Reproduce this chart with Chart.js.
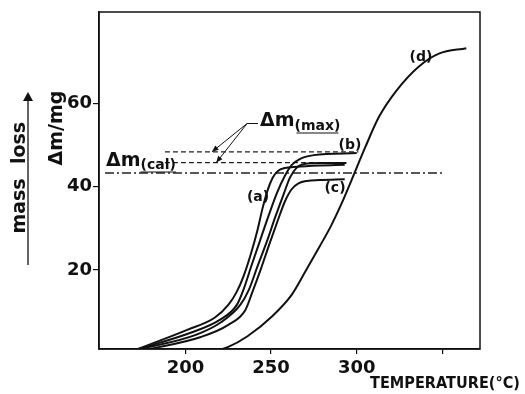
<!DOCTYPE html>
<html>
<head>
<meta charset="utf-8">
<script src="https://cdn.jsdelivr.net/npm/chart.js@4"></script>
<style>
  html, body { margin: 0; padding: 0; background: #fff; }
  #wrap { width: 525px; height: 394px; }
</style>
</head>
<body>
<div id="wrap"><canvas id="tgChart"></canvas></div>
<script>
// tick labels
const tempTicks = [200, 250, 300, 350];
const massTicks = [20, 40, 60];

// curve (a)
const aTemp = [169, 185, 201, 217, 225, 230, 234, 238, 242, 245, 248, 251, 254, 258, 265, 278, 293];
const aMass = [0.5, 3.0, 5.6, 8.5, 11.6, 14.8, 18.6, 23.6, 29.5, 34.8, 39.2, 42.2, 43.8, 44.5, 44.8, 45.1, 45.3];
// curve (b)
const bTemp = [171, 203, 220, 230, 234, 238.5, 243.5, 248.5, 253.5, 258, 262, 267, 275, 300];
const bMass = [0.8, 4.9, 8.0, 11.6, 15.4, 21.0, 27.0, 33.0, 38.6, 42.6, 45.2, 46.7, 47.6, 48.1];
// unlabelled curve between (b) and (c)
const eTemp = [174, 206, 221, 232, 237, 242, 247.5, 252.5, 257.5, 261, 265, 270, 278, 294];
const eMass = [1.0, 4.4, 7.5, 11.6, 15.2, 20.8, 26.8, 32.8, 38.4, 42.2, 44.6, 45.5, 45.7, 45.7];
// curve (c)
const cTemp = [177, 209, 225, 235, 239, 244, 249, 254, 258, 262, 266, 271, 278, 293];
const cMass = [0.8, 3.9, 6.8, 10.4, 14.6, 20.2, 26.2, 32.0, 36.4, 39.4, 40.8, 41.4, 41.6, 41.8];
// curve (d)
const dTemp = [215, 225, 236, 251, 262, 270, 278, 285, 291, 297, 305, 313, 323, 336, 348, 364];
const dMass = [0.3, 1.5, 4.0, 9.0, 14.0, 19.6, 25.4, 30.6, 35.8, 41.6, 49.5, 56.8, 63.0, 68.8, 72.0, 73.3];

// reference levels
const maxHighTemp = [188, 301];
const maxHighMass = [48.4, 48.4];
const maxLowTemp = [188, 294];
const maxLowMass = [45.8, 45.8];
const calTemp = [153, 350];
const calMass = [43.3, 43.3];

// arrow from the Δm(max) label to the two dashed levels
const arrowFrom = [236, 55.2];
const arrowTips = [[215.5, 48.4], [218, 45.8]];

const pts = (xs, ys) => xs.map((x, i) => ({ x, y: ys[i] }));

const curve = (label, xs, ys) => ({
  label, data: pts(xs, ys),
  borderColor: '#111', borderWidth: 2, pointRadius: 0,
  cubicInterpolationMode: 'monotone', fill: false
});
const level = (label, xs, ys, dash) => ({
  label, data: pts(xs, ys),
  borderColor: '#222', borderWidth: 1.3, pointRadius: 0,
  borderDash: dash, fill: false
});

const boldFont = (size) => 'bold ' + size + 'px "DejaVu Sans", sans-serif';

const decor = {
  id: 'decor',
  afterDraw(chart) {
    const { ctx, chartArea: a, scales: { x, y } } = chart;
    ctx.save();
    ctx.strokeStyle = '#111';
    ctx.fillStyle = '#111';
    ctx.lineWidth = 1.5;
    ctx.strokeRect(a.left, a.top, a.right - a.left, a.bottom - a.top);

    // curve labels
    ctx.font = boldFont(14);
    ctx.textAlign = 'center';
    ctx.textBaseline = 'middle';
    ctx.fillText('(a)', 258, 197);
    ctx.fillText('(b)', 350, 145);
    ctx.fillText('(c)', 335, 188);
    ctx.fillText('(d)', 421, 57);

    // Δm(max)
    ctx.textAlign = 'left';
    ctx.textBaseline = 'alphabetic';
    ctx.font = boldFont(19);
    ctx.fillText('Δm', 260, 126);
    let w = ctx.measureText('Δm').width;
    ctx.font = boldFont(14);
    ctx.fillText('(max)', 260 + w, 130);
    let w2 = ctx.measureText('(max)').width;
    ctx.lineWidth = 1;
    ctx.beginPath();
    ctx.moveTo(262 + w, 133); ctx.lineTo(258 + w + w2, 133);
    ctx.stroke();

    // arrows
    const fx = x.getPixelForValue(arrowFrom[0]);
    const fy = y.getPixelForValue(arrowFrom[1]);
    ctx.beginPath();
    ctx.moveTo(fx, fy); ctx.lineTo(258, fy);
    ctx.stroke();
    arrowTips.forEach(([tx, ty]) => {
      const px = x.getPixelForValue(tx), py = y.getPixelForValue(ty);
      ctx.beginPath();
      ctx.moveTo(fx, fy); ctx.lineTo(px, py);
      ctx.stroke();
      const ang = Math.atan2(py - fy, px - fx);
      ctx.beginPath();
      ctx.moveTo(px, py);
      ctx.lineTo(px - 7 * Math.cos(ang - 0.4), py - 7 * Math.sin(ang - 0.4));
      ctx.lineTo(px - 7 * Math.cos(ang + 0.4), py - 7 * Math.sin(ang + 0.4));
      ctx.closePath();
      ctx.fill();
    });

    // Δm(cal)
    ctx.font = boldFont(19);
    ctx.fillText('Δm', 106, 166);
    w = ctx.measureText('Δm').width;
    ctx.font = boldFont(14);
    ctx.fillText('(cal)', 106 + w, 169);
    w2 = ctx.measureText('(cal)').width;
    ctx.beginPath();
    ctx.moveTo(106 + w, 172); ctx.lineTo(106 + w + w2, 172);
    ctx.stroke();

    // y title Δm/mg
    ctx.save();
    ctx.translate(62, 128);
    ctx.rotate(-Math.PI / 2);
    ctx.font = boldFont(19);
    ctx.textAlign = 'center';
    ctx.fillText('Δm/mg', 0, 0);
    ctx.restore();

    // mass loss with arrow
    ctx.save();
    ctx.translate(25, 0);
    ctx.rotate(-Math.PI / 2);
    ctx.font = boldFont(19);
    ctx.textAlign = 'center';
    ctx.fillText('mass', -206, 0);
    ctx.fillText('loss', -143, 0);
    ctx.restore();
    ctx.lineWidth = 1.3;
    ctx.beginPath();
    ctx.moveTo(28, 265); ctx.lineTo(28, 98);
    ctx.stroke();
    ctx.beginPath();
    ctx.moveTo(28, 92); ctx.lineTo(23, 101); ctx.lineTo(33, 101);
    ctx.closePath();
    ctx.fill();

    // x title
    ctx.font = boldFont(14);
    ctx.textAlign = 'right';
    const t = 'TEMPERATURE(°C)';
    const tw = ctx.measureText(t).width;
    ctx.save();
    ctx.translate(520, 388);
    ctx.scale(150 / tw, 1.15);
    ctx.fillText(t, 0, 0);
    ctx.restore();
    ctx.restore();
  }
};

new Chart(document.getElementById('tgChart'), {
  type: 'line',
  data: {
    datasets: [
      curve('(a)', aTemp, aMass),
      curve('(b)', bTemp, bMass),
      curve('', eTemp, eMass),
      curve('(c)', cTemp, cMass),
      curve('(d)', dTemp, dMass),
      level('Δm(max) high', maxHighTemp, maxHighMass, [5, 3]),
      level('Δm(max) low', maxLowTemp, maxLowMass, [5, 3]),
      level('Δm(cal)', calTemp, calMass, [9, 3, 2, 3])
    ]
  },
  options: {
    responsive: true,
    maintainAspectRatio: false,
    animation: false,
    layout: { padding: { top: 12, right: 45, left: 0, bottom: 0 } },
    plugins: { legend: { display: false }, tooltip: { enabled: false } },
    scales: {
      x: {
        type: 'linear', min: 149.5, max: 372,
        afterBuildTicks: s => { s.ticks = tempTicks.map(v => ({ value: v })); },
        afterFit: s => { s.height = 45; },
        ticks: {
          color: '#111', font: { family: '"DejaVu Sans", sans-serif', size: 18, weight: 'bold' },
          padding: 4, maxRotation: 0, autoSkip: false,
          callback: v => (v === 350 ? '' : v)
        },
        grid: { drawOnChartArea: false, tickLength: 5, color: '#111', lineWidth: 1.2 },
        border: { color: '#111', width: 1.5 }
      },
      y: {
        type: 'linear', min: 1, max: 82,
        afterBuildTicks: s => { s.ticks = massTicks.map(v => ({ value: v })); },
        afterFit: s => { s.width = 99; },
        ticks: {
          color: '#111', font: { family: '"DejaVu Sans", sans-serif', size: 18, weight: 'bold' },
          padding: 1
        },
        grid: { drawOnChartArea: false, tickLength: 6, color: '#111', lineWidth: 1.2 },
        border: { color: '#111', width: 1.5 }
      }
    }
  },
  plugins: [decor]
});
</script>
</body>
</html>
